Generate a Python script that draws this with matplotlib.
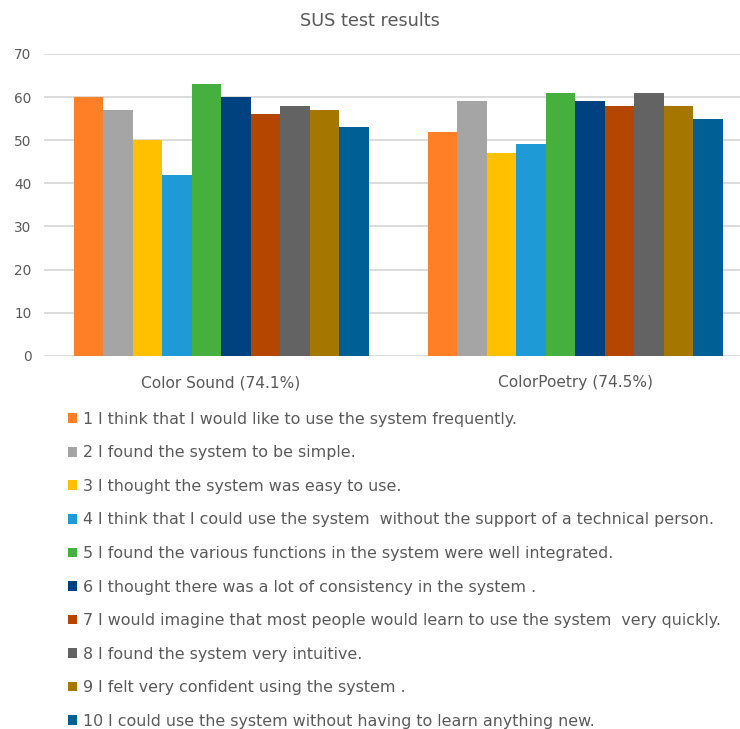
import matplotlib
matplotlib.use("Agg")
import matplotlib.pyplot as plt
import numpy as np

groups = ['Color Sound (74.1%)', 'ColorPoetry (74.5%)']
questions = [
    '1 I think that I would like to use the system frequently.',
    '2 I found the system to be simple.',
    '3 I thought the system was easy to use.',
    '4 I think that I could use the system  without the support of a technical person.',
    '5 I found the various functions in the system were well integrated.',
    '6 I thought there was a lot of consistency in the system .',
    '7 I would imagine that most people would learn to use the system  very quickly.',
    '8 I found the system very intuitive.',
    '9 I felt very confident using the system .',
    '10 I could use the system without having to learn anything new.',
]
color_sound = [60, 57, 50, 42, 63, 60, 56, 58, 57, 53]
color_poetry = [52, 59, 47, 49, 61, 59, 58, 61, 58, 55]
colors = ['#ff7f27', '#a5a5a5', '#ffc000', '#1e9bd7', '#45b03d', '#004280',
          '#b54600', '#636363', '#a67700', '#005f95']

text_grey = '#595959'

fig = plt.figure(figsize=(7.4, 7.29), dpi=100)
ax = fig.add_axes([0.0595, 0.512, 0.957, 0.414])

x = np.arange(len(groups))
n = len(questions)
group_w = 0.833
w = group_w / n
for i in range(n):
    vals = [color_sound[i], color_poetry[i]]
    ax.bar(x - group_w / 2 + w * (i + 0.5), vals, width=w, color=colors[i],
           label=questions[i], zorder=3)

ax.set_xlim(-0.5, 1.5)
ax.set_ylim(0, 70)
ax.set_yticks(range(0, 71, 10))
ax.set_xticks(x)
ax.set_xticklabels(groups)
ax.grid(axis='y', color='#d9d9d9', linewidth=1.3, zorder=0)
for s in ax.spines.values():
    s.set_visible(False)
ax.tick_params(length=0, colors=text_grey)
ax.tick_params(axis='x', pad=14, labelsize=11.1)
ax.tick_params(axis='y', pad=9, labelsize=9.8)

fig.text(0.5, 0.971, 'SUS test results', ha='center', va='center',
         fontsize=12.7, color=text_grey)

# legend: one question per row under the bars
handles, labels = ax.get_legend_handles_labels()
leg = fig.legend(handles, labels, loc='upper left',
                 bbox_to_anchor=(0.092, 0.435), ncol=1, frameon=False,
                 handlelength=0.57, handleheight=0.57, handletextpad=0.4,
                 labelspacing=1.17, fontsize=11.4, borderaxespad=0,
                 borderpad=0)
for t in leg.get_texts():
    t.set_color(text_grey)

fig.savefig('out.png', dpi=100)
